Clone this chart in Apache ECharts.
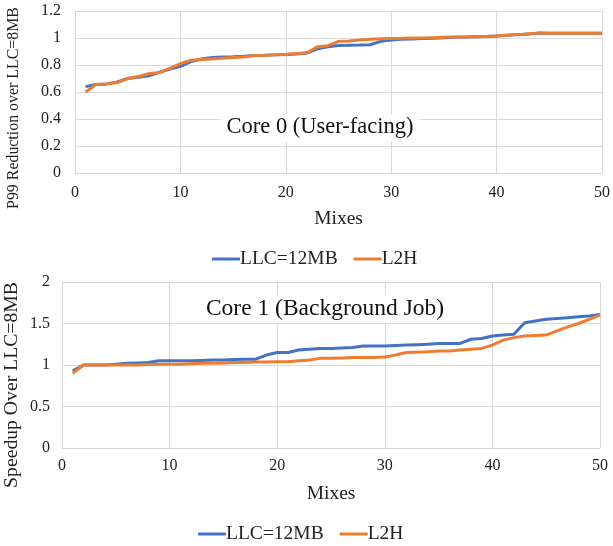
<!DOCTYPE html>
<html>
<head>
<meta charset="utf-8">
<script src="https://cdn.jsdelivr.net/npm/echarts@6/dist/echarts.min.js"></script>
<style>html,body{margin:0;padding:0;background:#fff}#c{width:613px;height:546px}</style>
</head>
<body>
<div id="c"></div>
<script>
const mixes = Array.from({length: 50}, (_, i) => i + 1);
const seriesNames = ['LLC=12MB', 'L2H'];

const core0LLC12 = [0.64,0.655,0.66,0.675,0.70,0.71,0.72,0.745,0.77,0.79,0.825,0.845,0.855,0.86,0.862,0.865,0.87,0.872,0.875,0.878,0.882,0.888,0.92,0.935,0.945,0.947,0.948,0.95,0.975,0.985,0.99,0.993,0.996,0.999,1.002,1.005,1.007,1.01,1.012,1.015,1.02,1.025,1.03,1.035,1.035,1.035,1.035,1.035,1.035,1.035];
const core0L2H = [0.60,0.655,0.66,0.67,0.70,0.715,0.735,0.745,0.775,0.81,0.835,0.84,0.845,0.85,0.855,0.86,0.87,0.872,0.875,0.878,0.885,0.89,0.935,0.943,0.975,0.977,0.985,0.99,0.995,0.997,0.998,1.0,1.0,1.002,1.005,1.007,1.008,1.01,1.012,1.015,1.02,1.025,1.03,1.038,1.035,1.035,1.035,1.035,1.035,1.035];

const core1LLC12 = [0.93,1.0,1.0,1.0,1.01,1.02,1.025,1.03,1.05,1.05,1.05,1.05,1.055,1.06,1.06,1.065,1.07,1.07,1.12,1.15,1.15,1.18,1.19,1.2,1.2,1.205,1.21,1.23,1.23,1.23,1.235,1.24,1.245,1.25,1.26,1.26,1.26,1.31,1.32,1.35,1.36,1.37,1.51,1.53,1.55,1.56,1.57,1.58,1.59,1.61];
const core1L2H = [0.90,1.0,1.0,1.0,1.0,1.0,1.0,1.005,1.01,1.01,1.01,1.015,1.02,1.02,1.025,1.03,1.03,1.035,1.035,1.04,1.04,1.05,1.06,1.08,1.08,1.085,1.09,1.09,1.09,1.095,1.12,1.15,1.155,1.16,1.17,1.17,1.18,1.19,1.2,1.24,1.3,1.33,1.35,1.355,1.36,1.41,1.46,1.5,1.55,1.6];

const FONT = '"Liberation Serif", "Times New Roman", serif';
const BLUE = '#4472C4', ORANGE = '#ED7D31', GRID = '#d9d9d9';

function pairs(ys) { return mixes.map((x, i) => [x, ys[i]]); }

function xAxis(gi, gap, margin) {
  return {
    gridIndex: gi, type: 'value', min: 0, max: 50, interval: 10,
    name: 'Mixes', nameLocation: 'middle', nameGap: gap,
    nameTextStyle: {fontFamily: FONT, fontSize: 19.5, color: '#222'},
    axisLine: {show: true, lineStyle: {color: GRID}},
    axisTick: {show: false},
    axisLabel: {fontFamily: FONT, fontSize: 16, color: '#222', margin: margin},
    splitLine: {show: true, lineStyle: {color: GRID}}
  };
}
function yAxis(gi, max, interval, margin) {
  return {
    gridIndex: gi, type: 'value', min: 0, max: max, interval: interval,
    axisLine: {show: false}, axisTick: {show: false},
    axisLabel: {fontFamily: FONT, fontSize: 16, color: '#222', margin: margin},
    splitLine: {show: true, lineStyle: {color: GRID}}
  };
}
function line(name, data, color, xi) {
  return {
    name: name, type: 'line', xAxisIndex: xi, yAxisIndex: xi, data: data,
    showSymbol: false, symbol: 'none', lineStyle: {width: 3, color: color}, itemStyle: {color: color},
    animation: false
  };
}
function legend(top, left) {
  return {
    top: top, left: left, data: seriesNames, icon: 'roundRect', itemWidth: 28, itemHeight: 3, itemGap: 16,
    textStyle: {fontFamily: FONT, fontSize: 19.5, color: '#222', padding: [0, 0, 0, -5]}
  };
}

const chart = echarts.init(document.getElementById('c'), null, {renderer: 'canvas'});
chart.setOption({
  backgroundColor: '#fff',
  animation: false,
  grid: [
    {left: 75, right: 7, top: 11, bottom: 373},
    {left: 62, right: 13, top: 282, bottom: 98}
  ],
  xAxis: [xAxis(0, 36, 12), xAxis(1, 36, 10)],
  yAxis: [yAxis(0, 1.2, 0.2, 14), yAxis(1, 2, 0.5, 12)],
  legend: [legend(244, 207), legend(519, 193)],
  title: [
    {text: 'Core 0 (User-facing)', left: 314, top: 114, textAlign: 'center', backgroundColor: '#fff', padding: [2, 6],
     textStyle: {fontFamily: FONT, fontSize: 22.5, fontWeight: 'normal', color: '#111'}},
    {text: 'Core 1 (Background Job)', left: 317, top: 295, textAlign: 'center', backgroundColor: '#fff', padding: [2, 8],
     textStyle: {fontFamily: FONT, fontSize: 23.5, fontWeight: 'normal', color: '#111'}}
  ],
  graphic: [
    {type: 'text', x: 14, y: 108, rotation: Math.PI / 2,
     style: {text: 'P99 Reduction over LLC=8MB', font: '15.9px ' + FONT, fill: '#222', align: 'center', verticalAlign: 'middle'}},
    {type: 'text', x: 12, y: 385, rotation: Math.PI / 2,
     style: {text: 'Speedup Over LLC=8MB', font: '19.7px ' + FONT, fill: '#222', align: 'center', verticalAlign: 'middle'}}
  ],
  series: [
    line(seriesNames[0], pairs(core0LLC12), BLUE, 0),
    line(seriesNames[1], pairs(core0L2H), ORANGE, 0),
    line(seriesNames[0], pairs(core1LLC12), BLUE, 1),
    line(seriesNames[1], pairs(core1L2H), ORANGE, 1)
  ]
});
</script>
</body>
</html>
